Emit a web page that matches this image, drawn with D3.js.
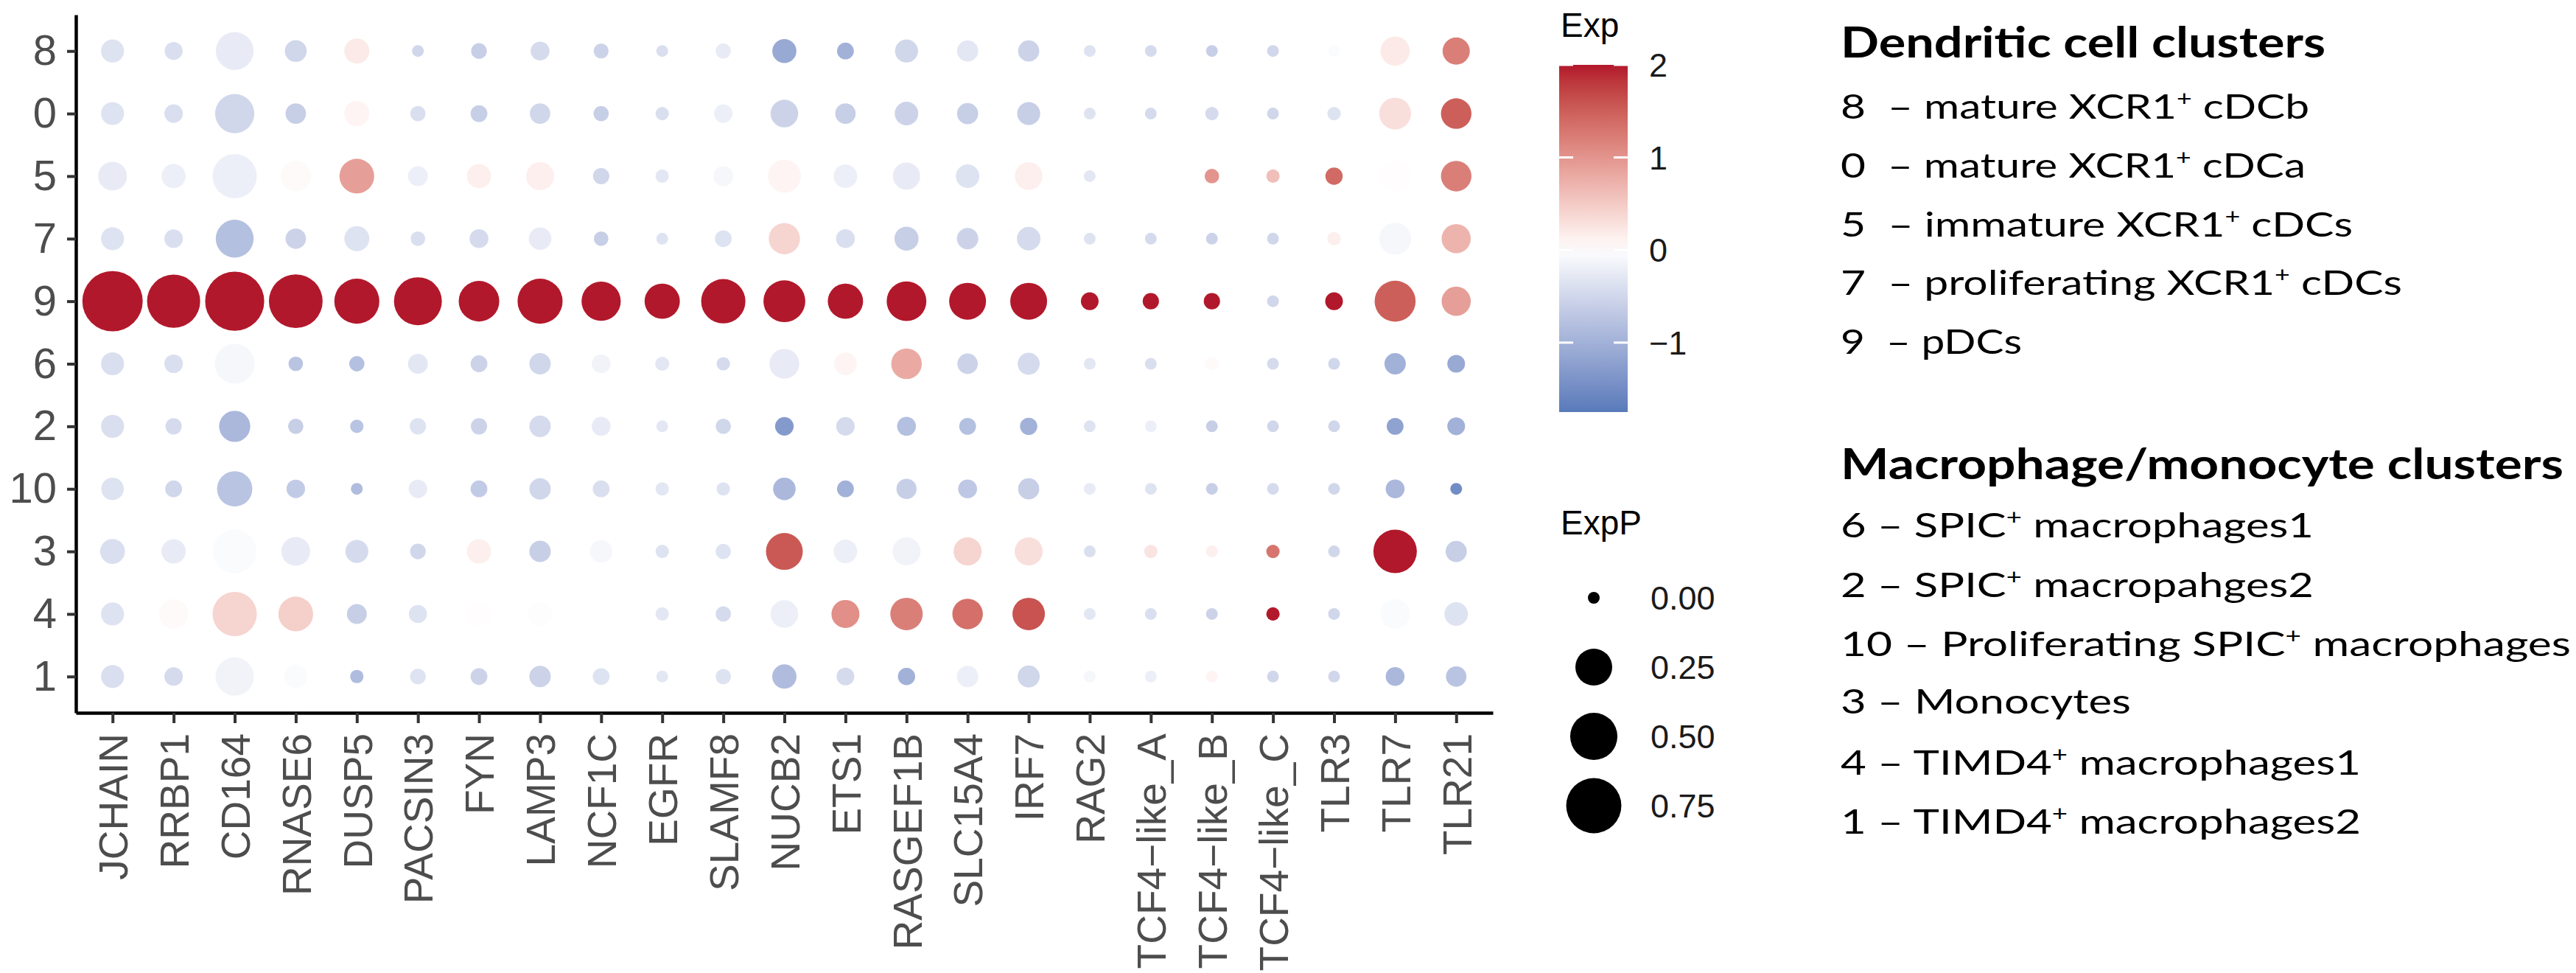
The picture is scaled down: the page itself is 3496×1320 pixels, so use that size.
<!DOCTYPE html>
<html>
<head>
<meta charset="utf-8">
<script src="https://cdn.jsdelivr.net/npm/d3@7"></script>
<style>
  body { margin: 0; background: #fff; }
</style>
</head>
<body>
<div id="chart"></div>
<script>
// genes along the x axis, clusters down the y axis (top to bottom)
var genes = ["JCHAIN", "RRBP1", "CD164", "RNASE6", "DUSP5", "PACSIN3", "FYN", "LAMP3",
    "NCF1C", "EGFR", "SLAMF8", "NUCB2", "ETS1", "RASGEF1B", "SLC15A4", "IRF7", "RAG2",
    "TCF4\u2212like_A", "TCF4\u2212like_B", "TCF4\u2212like_C", "TLR3", "TLR7", "TLR21"];

var clusters = ["8", "0", "5", "7", "9", "6", "2", "10", "3", "4", "1"];

// scaled average expression, one row per cluster (same order as clusters)
var avgExp = [
    [-0.35, -0.4, -0.25, -0.5, 0.2, -0.5, -0.6, -0.45, -0.55, -0.4, -0.25, -1.1, -1.0, -0.5, -0.3, -0.55, -0.35, -0.45, -0.6, -0.5, -0.05, 0.2, 1.2],
    [-0.35, -0.4, -0.5, -0.6, 0.1, -0.4, -0.6, -0.5, -0.6, -0.4, -0.2, -0.55, -0.6, -0.55, -0.6, -0.6, -0.35, -0.45, -0.45, -0.5, -0.35, 0.3, 1.5],
    [-0.25, -0.2, -0.2, 0.05, 0.9, -0.2, 0.15, 0.15, -0.5, -0.3, -0.1, 0.1, -0.2, -0.25, -0.35, 0.15, -0.3, 0.0, 1.0, 0.6, 1.4, 0.02, 1.2],
    [-0.35, -0.4, -0.8, -0.55, -0.35, -0.4, -0.45, -0.25, -0.6, -0.35, -0.35, 0.4, -0.4, -0.6, -0.55, -0.45, -0.35, -0.45, -0.55, -0.5, 0.15, -0.1, 0.7],
    [2, 2, 2, 2, 2, 2, 2, 2, 2, 2, 2, 2, 2, 2, 2, 2, 2, 2, 2, -0.5, 2, 1.5, 0.9],
    [-0.4, -0.4, -0.1, -0.75, -0.8, -0.3, -0.55, -0.5, -0.15, -0.3, -0.45, -0.25, 0.1, 0.8, -0.55, -0.45, -0.3, -0.4, 0.05, -0.45, -0.5, -1.0, -1.1],
    [-0.4, -0.45, -0.9, -0.6, -0.75, -0.35, -0.55, -0.45, -0.25, -0.3, -0.5, -1.3, -0.45, -0.8, -0.8, -1.0, -0.35, -0.2, -0.6, -0.5, -0.5, -1.2, -1.0],
    [-0.35, -0.5, -0.75, -0.65, -0.85, -0.25, -0.65, -0.5, -0.4, -0.3, -0.35, -0.9, -1.0, -0.6, -0.7, -0.6, -0.25, -0.35, -0.6, -0.45, -0.5, -0.9, -1.5],
    [-0.4, -0.25, -0.05, -0.25, -0.45, -0.5, 0.15, -0.6, -0.1, -0.35, -0.35, 1.55, -0.2, -0.15, 0.4, 0.3, -0.4, 0.25, 0.15, 1.3, -0.5, 2, -0.6],
    [-0.35, 0.05, 0.4, 0.45, -0.6, -0.35, 0.02, -0.02, 0.0, -0.3, -0.45, -0.2, 1.05, 1.2, 1.35, 1.6, -0.3, -0.4, -0.55, 2, -0.5, -0.05, -0.35],
    [-0.4, -0.45, -0.15, -0.05, -0.85, -0.35, -0.55, -0.55, -0.35, -0.3, -0.35, -0.85, -0.45, -1.0, -0.2, -0.5, -0.1, -0.2, 0.1, -0.5, -0.5, -0.9, -0.75]
];

// fraction of cells expressing, same layout as avgExp
var pctExp = [
    [0.05, 0.015, 0.27, 0.04, 0.07, 0, 0.006, 0.02, 0.004, 0, 0.005, 0.06, 0.01, 0.05, 0.035, 0.035, 0, 0, 0, 0, 0, 0.12, 0.095],
    [0.05, 0.018, 0.30, 0.03, 0.07, 0.005, 0.01, 0.03, 0.005, 0.001, 0.018, 0.10, 0.03, 0.055, 0.035, 0.05, 0, 0, 0.001, 0, 0.001, 0.16, 0.14],
    [0.115, 0.06, 0.42, 0.135, 0.21, 0.026, 0.06, 0.105, 0.008, 0.001, 0.026, 0.18, 0.055, 0.095, 0.055, 0.10, 0, 0, 0.003, 0.001, 0.012, 0.14, 0.14],
    [0.05, 0.018, 0.27, 0.03, 0.07, 0.003, 0.02, 0.046, 0.003, 0, 0.01, 0.15, 0.02, 0.06, 0.037, 0.055, 0, 0, 0, 0, 0.001, 0.16, 0.12],
    [0.94, 0.68, 0.89, 0.70, 0.44, 0.52, 0.33, 0.44, 0.30, 0.22, 0.42, 0.36, 0.22, 0.31, 0.25, 0.25, 0.014, 0.008, 0.008, 0, 0.014, 0.34, 0.12],
    [0.05, 0.018, 0.31, 0.003, 0.005, 0.026, 0.01, 0.037, 0.02, 0.002, 0.001, 0.13, 0.046, 0.14, 0.03, 0.042, 0, 0, 0.001, 0, 0, 0.036, 0.014],
    [0.05, 0.008, 0.15, 0.005, 0.001, 0.008, 0.008, 0.037, 0.02, 0, 0.005, 0.018, 0.018, 0.02, 0.01, 0.012, 0, 0, 0, 0, 0, 0.01, 0.014],
    [0.046, 0.01, 0.22, 0.018, 0, 0.018, 0.01, 0.037, 0.01, 0.001, 0.001, 0.046, 0.01, 0.028, 0.02, 0.035, 0, 0, 0, 0, 0, 0.02, 0],
    [0.068, 0.062, 0.40, 0.115, 0.05, 0.006, 0.062, 0.037, 0.046, 0.001, 0.005, 0.25, 0.055, 0.105, 0.105, 0.105, 0, 0.001, 0, 0.001, 0, 0.40, 0.035],
    [0.05, 0.125, 0.42, 0.21, 0.026, 0.016, 0.07, 0.062, 0.046, 0.001, 0.005, 0.10, 0.105, 0.17, 0.14, 0.17, 0, 0, 0, 0.001, 0, 0.125, 0.055],
    [0.05, 0.018, 0.28, 0.05, 0.001, 0.006, 0.01, 0.037, 0.01, 0, 0.005, 0.062, 0.014, 0.012, 0.037, 0.042, 0, 0, 0, 0, 0, 0.02, 0.03]
];

// legend values
var expLimits = [-1.75, 2];
var expTicks = [2, 1, 0, -1];
var pctTicks = [0, 0.25, 0.5, 0.75];

// cluster annotation text on the right
var dcTitle = "Dendritic cell clusters";
var dcLines = [
    ["8  \u2013 mature XCR1", "+", " cDCb"],
    ["0  \u2013 mature XCR1", "+", " cDCa"],
    ["5  \u2013 immature XCR1", "+", " cDCs"],
    ["7  \u2013 proliferating XCR1", "+", " cDCs"],
    ["9  \u2013 pDCs"]
];
var macTitle = "Macrophage/monocyte clusters";
var macLines = [
    ["6 \u2013 SPIC", "+", " macrophages1"],
    ["2 \u2013 SPIC", "+", " macropahges2"],
    ["10 \u2013 Proliferating SPIC", "+", " macrophages"],
    ["3 \u2013 Monocytes"],
    ["4 \u2013 TIMD4", "+", " macrophages1"],
    ["1 \u2013 TIMD4", "+", " macrophages2"]
];

// set up svg
var svgWidth = 3496;
var svgHeight = 1320;

var svg = d3.select("#chart")
    .append("svg")
    .attr("width", svgWidth)
    .attr("height", svgHeight)
    .style("font-family", "'Liberation Sans', Arial, sans-serif");

// plot area edges (axis lines)
var plotLeft = 103, plotRight = 2026, plotTop = 20, plotBottom = 967;

var xScale = d3.scalePoint()
    .domain(genes)
    .range([plotLeft, plotRight])
    .padding(0.6);

var yScale = d3.scalePoint()
    .domain(clusters)
    .range([plotTop, plotBottom])
    .padding(0.58);

var rScale = d3.scaleSqrt()
    .domain([0, 1])
    .range([8, 42]);

var colorScale = d3.scaleLinear()
    .domain([-2, 0, 2])
    .range(["#3b69b0", "#ffffff", "#b2182b"])
    .interpolate(d3.interpolateLab)
    .clamp(true);

// flatten the matrices into points
var points = [];
clusters.forEach(function (c, i) {
    genes.forEach(function (g, j) {
        points.push({ cluster: c, gene: g, exp: avgExp[i][j], pct: pctExp[i][j] });
    });
});

// dots
svg.append("g")
    .selectAll("circle")
    .data(points)
    .enter()
    .append("circle")
    .attr("cx", d => xScale(d.gene))
    .attr("cy", d => yScale(d.cluster))
    .attr("r", d => rScale(d.pct))
    .attr("fill", d => colorScale(d.exp));

// y axis
var leftAxis = d3.axisLeft(yScale).tickSize(12).tickSizeOuter(0).tickPadding(14);
var yAxis = svg.append("g")
    .attr("transform", `translate(${plotLeft}, 0)`)
    .call(leftAxis);
yAxis.select(".domain").attr("stroke", "#000").attr("stroke-width", 4.5);
yAxis.selectAll(".tick line").attr("stroke", "#333").attr("stroke-width", 4);
yAxis.selectAll(".tick text")
    .attr("font-size", 58)
    .attr("fill", "#4d4d4d")
    .attr("font-family", "'Liberation Sans', Arial, sans-serif");

// x axis
var bottomAxis = d3.axisBottom(xScale).tickSize(14).tickSizeOuter(0);
var xAxis = svg.append("g")
    .attr("transform", `translate(0, ${plotBottom})`)
    .call(bottomAxis);
xAxis.select(".domain").attr("stroke", "#000").attr("stroke-width", 4.5);
xAxis.selectAll(".tick line").attr("stroke", "#333").attr("stroke-width", 4);
xAxis.selectAll(".tick text")
    .attr("font-size", 55)
    .attr("fill", "#4d4d4d")
    .attr("font-family", "'Liberation Sans', Arial, sans-serif")
    .attr("transform", "rotate(-90)")
    .attr("text-anchor", "end")
    .attr("x", -28)
    .attr("y", 0)
    .attr("dy", "0.36em");

// colour bar legend
var barX = 2116, barW = 93;
var barScale = d3.scaleLinear().domain(expLimits).range([559, 88]);

var grad = svg.append("defs").append("linearGradient")
    .attr("id", "expGrad")
    .attr("x1", 0).attr("y1", 1).attr("x2", 0).attr("y2", 0);
d3.range(0, 1.0001, 0.05).forEach(function (t) {
    grad.append("stop")
        .attr("offset", t)
        .attr("stop-color", colorScale(expLimits[0] + t * (expLimits[1] - expLimits[0])));
});

svg.append("text")
    .attr("x", 2118)
    .attr("y", 50)
    .attr("font-size", 46)
    .attr("fill", "#000")
    .text("Exp");

svg.append("rect")
    .attr("x", barX)
    .attr("y", barScale(expLimits[1]))
    .attr("width", barW)
    .attr("height", barScale(expLimits[0]) - barScale(expLimits[1]))
    .attr("fill", "url(#expGrad)");

var barTicks = svg.append("g").selectAll("g")
    .data(expTicks)
    .enter()
    .append("g")
    .attr("transform", d => `translate(0, ${barScale(d)})`);
barTicks.append("line")
    .attr("x1", barX).attr("x2", barX + 19)
    .attr("stroke", "#fff").attr("stroke-width", 3);
barTicks.append("line")
    .attr("x1", barX + barW - 19).attr("x2", barX + barW)
    .attr("stroke", "#fff").attr("stroke-width", 3);
barTicks.append("text")
    .attr("x", 2238)
    .attr("dy", "0.36em")
    .attr("font-size", 45)
    .attr("fill", "#1a1a1a")
    .text(d => d3.format("d")(d));

// dot size legend
var keyScale = d3.scalePoint().domain(pctTicks).range([811, 1093]);

svg.append("text")
    .attr("x", 2118)
    .attr("y", 725)
    .attr("font-size", 46)
    .attr("fill", "#000")
    .text("ExpP");

var keys = svg.append("g").selectAll("g")
    .data(pctTicks)
    .enter()
    .append("g")
    .attr("transform", d => `translate(0, ${keyScale(d)})`);
keys.append("circle")
    .attr("cx", 2163)
    .attr("r", d => rScale(d))
    .attr("fill", "#000");
keys.append("text")
    .attr("x", 2240)
    .attr("dy", "0.36em")
    .attr("font-size", 45)
    .attr("fill", "#1a1a1a")
    .text(d => d3.format(".2f")(d));

// cluster annotation block
var noteX = 2498;
var noteRows = [
    { parts: [dcTitle], bold: true, y: 78, right: 3156 },
    { parts: dcLines[0], y: 161, right: 3134 },
    { parts: dcLines[1], y: 241, right: 3129 },
    { parts: dcLines[2], y: 321, right: 3193 },
    { parts: dcLines[3], y: 400, right: 3260 },
    { parts: dcLines[4], y: 480, right: 2744 },
    { parts: [macTitle], bold: true, y: 650, right: 3479 },
    { parts: macLines[0], y: 729, right: 3140 },
    { parts: macLines[1], y: 810, right: 3140 },
    { parts: macLines[2], y: 890, right: 3489 },
    { parts: macLines[3], y: 968, right: 2892 },
    { parts: macLines[4], y: 1051, right: 3204 },
    { parts: macLines[5], y: 1131, right: 3204 }
];

noteRows.forEach(function (row) {
    var t = svg.append("text")
        .attr("x", noteX)
        .attr("y", row.y)
        .attr("font-family", "Lato, 'Open Sans', sans-serif")
        .attr("font-size", row.bold ? 57 : 46)
        .attr("font-weight", row.bold ? 700 : 400)
        .attr("fill", "#000")
        .attr("textLength", row.right - noteX)
        .attr("lengthAdjust", "spacingAndGlyphs")
        .style("white-space", "pre");
    row.parts.forEach(function (p, k) {
        var sp = t.append("tspan").text(p);
        if (p === "+") {
            sp.attr("font-size", 28).attr("dy", -17);
        } else if (k > 0) {
            sp.attr("dy", 17);
        }
    });
});
</script>
</body>
</html>
